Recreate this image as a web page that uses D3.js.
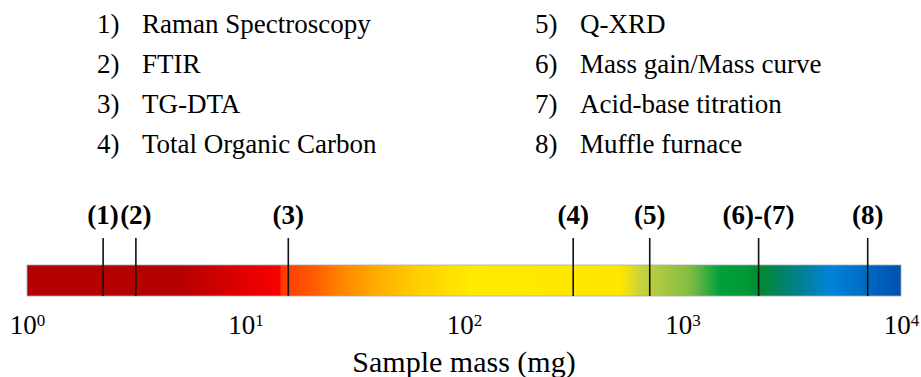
<!DOCTYPE html>
<html>
<head>
<meta charset="utf-8">
<style>
  body { margin: 0; background: #fff; }
  svg { display: block; }
</style>
</head>
<body>
<div id="chart"></div>
<script src="https://cdn.jsdelivr.net/npm/d3@7/dist/d3.min.js"></script>
<script>
// legend items (method names)
var methodNums = ["1)", "2)", "3)", "4)", "5)", "6)", "7)", "8)"];
var methodNames = ["Raman Spectroscopy", "FTIR", "TG-DTA", "Total Organic Carbon",
    "Q-XRD", "Mass gain/Mass curve", "Acid-base titration", "Muffle furnace"];

// marker positions on the mass axis (mg)
var markerLabels = ["(1)", "(2)", "(3)", "(4)", "(5)", "(6)-(7)", "(8)"];
var markerMass = [2.23, 3.15, 15.7, 316, 708, 2230, 7040];

// axis ticks
var tickValues = [1, 10, 100, 1000, 10000];
var tickExps = ["0", "1", "2", "3", "4"];
var axisTitle = "Sample mass (mg)";

// colour band stops (fraction of bar width, colour)
var bandOffsets = [0, 0.175, 0.278, 0.289, 0.291, 0.324, 0.358, 0.404, 0.450, 0.507, 0.679, 0.702, 0.759, 0.793, 0.822, 0.839, 0.873, 0.919, 1];
var bandColors = ["#b30000", "#b50000", "#f20000", "#f80000", "#ff3a00", "#ff5500", "#ff8400", "#ffb000", "#ffd000",
    "#ffea00", "#ffe600", "#c8d23c", "#80bc44", "#00a03c", "#009838", "#008a30", "#00807a", "#0084d8", "#0050b0"];

var width = 921, height = 377;
var barTop = 265, barBottom = 296;
var serif = "Liberation Serif";

var svg = d3.select("#chart").append("svg")
    .attr("width", width)
    .attr("height", height)
    .attr("font-family", serif);

var x = d3.scaleLog().domain([1, 10000]).range([27, 901]);

//gradient
var defs = svg.append("defs");
var grad = defs.append("linearGradient").attr("id", "band")
    .attr("x1", "0%").attr("x2", "100%").attr("y1", "0%").attr("y2", "0%");
for (var i = 0; i < bandOffsets.length; i++) {
    grad.append("stop")
        .attr("offset", (bandOffsets[i] * 100) + "%")
        .attr("stop-color", bandColors[i]);
}

//legend
var legend = svg.append("g").attr("class", "legend");
for (var i = 0; i < methodNames.length; i++) {
    var col = i < 4 ? 0 : 1;
    var row = i % 4;
    var lx = col == 0 ? 97 : 535;
    var ly = 33 + row * 40;
    legend.append("text")
        .attr("x", lx).attr("y", ly)
        .attr("font-family", serif)
        .attr("font-size", 27)
        .text(methodNums[i]);
    legend.append("text")
        .attr("x", lx + 45).attr("y", ly)
        .attr("font-family", serif)
        .attr("font-size", 27)
        .text(methodNames[i]);
}

//bar
svg.append("rect")
    .attr("x", x(1))
    .attr("y", barTop)
    .attr("width", x(10000) - x(1))
    .attr("height", barBottom - barTop)
    .attr("fill", "url(#band)")
    .attr("stroke", "#a9abb3")
    .attr("stroke-width", 0.8);

//markers
var markers = svg.append("g").attr("class", "markers");
markers.selectAll("line")
    .data(markerMass)
    .enter().append("line")
    .attr("x1", function (d) { return x(d); })
    .attr("x2", function (d) { return x(d); })
    .attr("y1", 238)
    .attr("y2", barBottom)
    .attr("stroke", "#111")
    .attr("stroke-width", 1.6);

markers.selectAll("text")
    .data(markerMass)
    .enter().append("text")
    .attr("x", function (d) { return x(d); })
    .attr("y", 224)
    .attr("text-anchor", "middle")
    .attr("font-family", serif)
    .attr("font-size", 27)
    .attr("font-weight", "bold")
    .text(function (d, i) { return markerLabels[i]; });

//axis
var axis = svg.append("g")
    .attr("transform", "translate(0," + 334 + ")")
    .call(d3.axisBottom(x).tickValues(tickValues).tickSize(0).tickPadding(0).tickFormat(function () { return ""; }));
axis.attr("font-family", serif);
axis.select(".domain").remove();
axis.selectAll(".tick text").remove();
axis.selectAll(".tick").each(function (d, i) {
    var t = d3.select(this).append("text")
        .attr("y", 0)
        .attr("text-anchor", "middle")
        .attr("fill", "#000")
        .attr("font-family", serif)
        .attr("font-size", 27);
    t.append("tspan").text("10");
    t.append("tspan")
        .attr("dy", -8)
        .attr("font-size", 17)
        .text(tickExps[i]);
});

svg.append("text")
    .attr("x", (x(1) + x(10000)) / 2)
    .attr("y", 372)
    .attr("text-anchor", "middle")
    .attr("font-family", serif)
    .attr("font-size", 30)
    .text(axisTitle);
</script>
</body>
</html>
